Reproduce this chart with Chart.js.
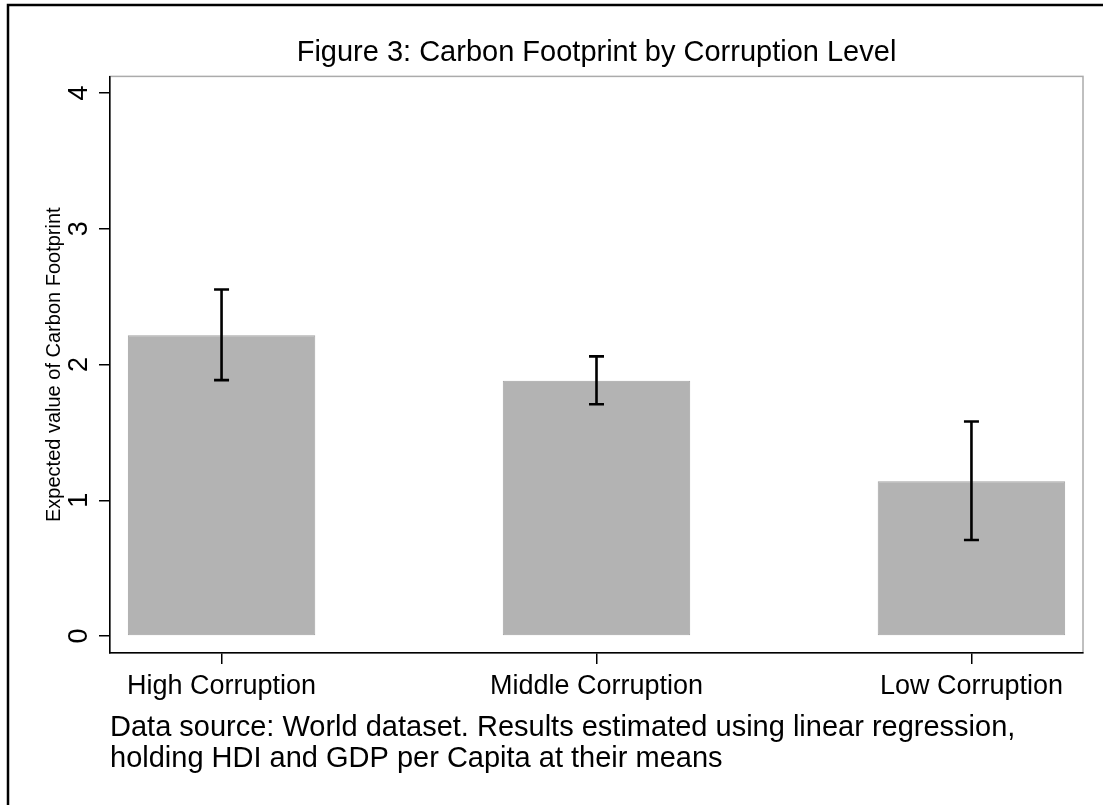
<!DOCTYPE html>
<html><head><meta charset="utf-8">
<script src="https://cdn.jsdelivr.net/npm/chart.js@4.4.1/dist/chart.umd.min.js"></script>
<style>html,body{margin:0;padding:0;background:#fff;} canvas{display:block;}</style>
</head><body>
<canvas id="c" width="1103" height="805"></canvas>
<script>
const categories = ['High Corruption', 'Middle Corruption', 'Low Corruption'];
const expectedValues = [2.216, 1.880, 1.141];
const ciLower = [1.885, 1.708, 0.707];
const ciUpper = [2.553, 2.060, 1.581];
const yTickValues = [0, 1, 2, 3, 4];
const titleText = 'Figure 3: Carbon Footprint by Corruption Level';
const yAxisTitle = 'Expected value of Carbon Footprint';
const noteLines = [
  'Data source: World dataset. Results estimated using linear regression,',
  'holding HDI and GDP per Capita at their means'
];

const FONT = '"Liberation Sans", Arial, Helvetica, sans-serif';
Chart.defaults.font.family = FONT;
Chart.defaults.color = '#000';

const framePlugin = {
  id: 'frame',
  beforeDraw(chart) {
    const ctx = chart.ctx;
    ctx.save();
    ctx.fillStyle = '#fff';
    ctx.fillRect(0, 0, chart.width, chart.height);
    // outer figure border (top and left visible)
    ctx.strokeStyle = '#000';
    ctx.lineWidth = 2.5;
    ctx.beginPath();
    ctx.moveTo(8, chart.height);
    ctx.lineTo(8, 5);
    ctx.lineTo(chart.width, 5);
    ctx.stroke();
    // plot region border
    const a = chart.chartArea;
    ctx.strokeStyle = '#ababab';
    ctx.lineWidth = 1.5;
    ctx.strokeRect(a.left, a.top, a.right - a.left, a.bottom - a.top);
    ctx.restore();
  }
};

const errorBarPlugin = {
  id: 'errorBars',
  afterDatasetsDraw(chart) {
    const ctx = chart.ctx;
    const xs = chart.scales.x, ys = chart.scales.y;
    ctx.save();
    ctx.strokeStyle = '#000';
    ctx.lineWidth = 2.6;
    ctx.lineCap = 'butt';
    categories.forEach((c, i) => {
      const x = xs.getPixelForValue(i);
      const yl = ys.getPixelForValue(ciLower[i]);
      const yh = ys.getPixelForValue(ciUpper[i]);
      ctx.beginPath();
      ctx.moveTo(x, yl); ctx.lineTo(x, yh);
      ctx.moveTo(x - 7.5, yl); ctx.lineTo(x + 7.5, yl);
      ctx.moveTo(x - 7.5, yh); ctx.lineTo(x + 7.5, yh);
      ctx.stroke();
    });
    ctx.restore();
  }
};

new Chart(document.getElementById('c'), {
  type: 'bar',
  data: {
    datasets: [{
      data: categories.map((c, i) => ({x: i, y: expectedValues[i]})),
      backgroundColor: '#b3b3b3',
      borderColor: '#a3a3a3',
      borderWidth: 1,
      borderSkipped: false,
      barPercentage: 1,
      categoryPercentage: 0.5
    }]
  },
  options: {
    responsive: false,
    animation: false,
    events: [],
    layout: {padding: {left: 0, right: 20, top: 0, bottom: 0}},
    plugins: {
      legend: {display: false},
      tooltip: {enabled: false},
      title: {
        display: true,
        text: titleText,
        color: '#000',
        fullSize: false,
        font: {family: FONT, size: 29, weight: 'normal', lineHeight: 1.2},
        padding: {top: 36, bottom: 5.6}
      },
      subtitle: {
        display: true,
        position: 'bottom',
        align: 'start',
        text: noteLines,
        color: '#000',
        fullSize: false,
        font: {family: FONT, size: 29, weight: 'normal', lineHeight: 31 / 29},
        padding: {top: 2, bottom: 31}
      }
    },
    scales: {
      x: {
        type: 'linear',
        min: -0.2975,
        max: 2.2975,
        offset: false,
        afterBuildTicks(scale) { scale.ticks = categories.map((c, i) => ({value: i})); },
        afterFit(scale) { scale.height = 57; },
        ticks: {
          autoSkip: false,
          maxRotation: 0,
          minRotation: 0,
          padding: 6,
          color: '#000',
          font: {family: FONT, size: 27},
          callback: (v) => categories[v]
        },
        grid: {display: true, drawOnChartArea: false, drawTicks: true, tickLength: 11, color: '#000', lineWidth: 1.5, offset: false},
        border: {display: true, color: '#000', width: 1.5}
      },
      y: {
        type: 'linear',
        min: -0.125,
        max: 4.123,
        afterBuildTicks(scale) { scale.ticks = yTickValues.map(v => ({value: v})); },
        afterFit(scale) { scale.width = 110; },
        ticks: {
          minRotation: 90,
          maxRotation: 90,
          crossAlign: 'center',
          padding: 12,
          color: '#000',
          font: {family: FONT, size: 27},
          callback: (v) => String(v)
        },
        grid: {display: true, drawOnChartArea: false, drawTicks: true, tickLength: 11, color: '#000', lineWidth: 1.5},
        border: {display: true, color: '#000', width: 1.5},
        title: {
          display: true,
          text: yAxisTitle,
          color: '#000',
          font: {family: FONT, size: 20, lineHeight: 1.2},
          padding: {top: 42, bottom: 0}
        }
      }
    }
  },
  plugins: [framePlugin, errorBarPlugin]
});
</script>
</body></html>
